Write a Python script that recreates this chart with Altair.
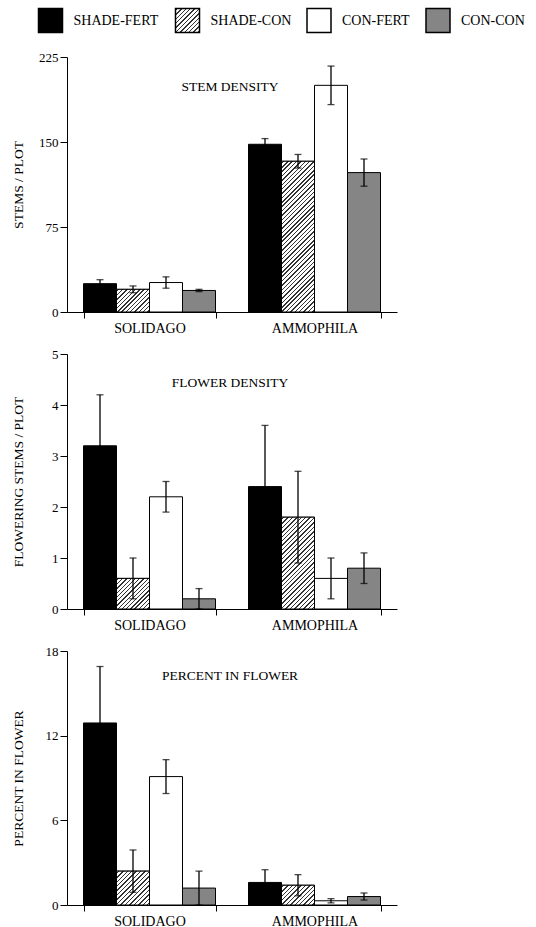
import altair as alt
import pandas as pd
import math

# ---------------- data ----------------
groups = ["SOLIDAGO", "AMMOPHILA"]
treatments = ["SHADE-FERT", "SHADE-CON", "CON-FERT", "CON-CON"]

stem_mean_solidago = [25, 20, 26, 19]
stem_se_solidago = [3.5, 3, 5, 1]
stem_mean_ammophila = [148, 133, 200, 123]
stem_se_ammophila = [5, 6, 17, 12]

flower_mean_solidago = [3.2, 0.6, 2.2, 0.2]
flower_se_solidago = [1.0, 0.4, 0.3, 0.2]
flower_mean_ammophila = [2.4, 1.8, 0.6, 0.8]
flower_se_ammophila = [1.2, 0.9, 0.4, 0.3]

pct_mean_solidago = [12.9, 2.4, 9.1, 1.2]
pct_se_solidago = [4.0, 1.5, 1.2, 1.2]
pct_mean_ammophila = [1.6, 1.4, 0.3, 0.6]
pct_se_ammophila = [0.9, 0.75, 0.15, 0.25]

stem_ticks = [0, 75, 150, 225]
flower_ticks = [0, 1, 2, 3, 4, 5]
pct_ticks = [0, 6, 12, 18]

# ---------------- style ----------------
FONT = "Liberation Serif"
FS = 13
XFS = 14
TFS = 13.5
PW = 330
fill_range = ["#000000", "#ffffff", "#ffffff", "#858585"]


def hatch(W, H, period=3.1, line=1.0):
    W = max(W, 1.0)
    H = max(H, 1.0)
    k = (W + H) / (W * W + H * H)
    a, b = W * k, H * k
    n = max(1, int(round((W + H) / (math.sqrt(2) * period))))
    f = line / period
    stops = [alt.GradientStop(color="#ffffff", offset=0)]
    for i in range(n):
        s = (i + 0.5 - f / 2) / n
        e = (i + 0.5 + f / 2) / n
        stops += [
            alt.GradientStop(color="#ffffff", offset=s),
            alt.GradientStop(color="#333333", offset=s),
            alt.GradientStop(color="#333333", offset=e),
            alt.GradientStop(color="#ffffff", offset=e),
        ]
    stops.append(alt.GradientStop(color="#ffffff", offset=1))
    return alt.LinearGradient(gradient="linear", stops=stops, x1=0, y1=0, x2=a, y2=b)


def panel(ms, ss, ma, sa, ticks, ytitle, label, height, title_y):
    rows = []
    for g, means, ses in [("SOLIDAGO", ms, ss), ("AMMOPHILA", ma, sa)]:
        for t, m, s in zip(treatments, means, ses):
            rows.append({"group": g, "treatment": t, "mean": m,
                         "lo": max(m - s, 0), "hi": m + s})
    df = pd.DataFrame(rows)
    ymax = ticks[-1]
    yscale = alt.Scale(domain=[0, ymax], nice=False, zero=True)
    yaxis = alt.Axis(values=ticks, title=ytitle, grid=False, tickSize=7,
                     labelPadding=2, minExtent=32, maxExtent=32, titlePadding=10,
                     domainColor="black", tickColor="black", labelColor="black",
                     titleColor="black", labelFont=FONT, titleFont=FONT,
                     labelFontSize=FS, titleFontSize=TFS, titleFontWeight="normal")
    base = alt.Chart(df).encode(
        x=alt.X("group:N", sort=groups, title=None,
                scale=alt.Scale(domain=groups, paddingInner=0.2, paddingOuter=0.1),
                axis=alt.Axis(labelAngle=0, tickBand="extent", tickSize=6, labelPadding=3,
                              domainColor="black", tickColor="black", labelColor="black",
                              labelFont=FONT, labelFontSize=XFS, grid=False)),
        xOffset=alt.XOffset("treatment:N", sort=treatments,
                            scale=alt.Scale(domain=treatments, paddingInner=0, paddingOuter=0)),
    )
    bars = base.mark_bar(stroke="black", strokeWidth=1).encode(
        y=alt.Y("mean:Q", scale=yscale, axis=yaxis),
        fill=alt.Fill("treatment:N", scale=alt.Scale(domain=treatments, range=fill_range),
                      legend=None),
    )
    layers = [bars]
    bw = PW / 2 * 0.8 / 4
    for g, means in [("SOLIDAGO", ms), ("AMMOPHILA", ma)]:
        h = means[1] / ymax * height
        layers.append(
            base.transform_filter(
                (alt.datum.group == g) & (alt.datum.treatment == "SHADE-CON")
            ).mark_bar(fill=hatch(bw, h), stroke="black", strokeWidth=1).encode(
                y=alt.Y("mean:Q", scale=yscale, axis=yaxis))
        )
    layers.append(base.mark_rule(color="black", strokeWidth=1.3).encode(
        y=alt.Y("lo:Q", scale=yscale, axis=yaxis), y2="hi:Q"))
    layers.append(base.mark_tick(color="black", thickness=1.3, size=7).encode(
        y=alt.Y("lo:Q", scale=yscale, axis=yaxis)))
    layers.append(base.mark_tick(color="black", thickness=1.3, size=7).encode(
        y=alt.Y("hi:Q", scale=yscale, axis=yaxis)))
    ttl = alt.Chart(pd.DataFrame({"t": [label]})).mark_text(
        font=FONT, fontSize=TFS, color="black", baseline="middle", align="center"
    ).encode(text="t:N", x=alt.value(163), y=alt.value(title_y))
    layers.append(ttl)
    return alt.layer(*layers).properties(width=PW, height=height)


p1 = panel(stem_mean_solidago, stem_se_solidago, stem_mean_ammophila, stem_se_ammophila,
           stem_ticks, "STEMS / PLOT", "STEM DENSITY", 255, 30)
p2 = panel(flower_mean_solidago, flower_se_solidago, flower_mean_ammophila, flower_se_ammophila,
           flower_ticks, "FLOWERING STEMS / PLOT", "FLOWER DENSITY", 255, 29)
p3 = panel(pct_mean_solidago, pct_se_solidago, pct_mean_ammophila, pct_se_ammophila,
           pct_ticks, "PERCENT IN FLOWER", "PERCENT IN FLOWER", 254, 25)

# ---------------- legend ----------------
# swatch centres, relative to the plot-area left edge
leg_pos = [-16.5, 120.5, 252, 371]
one = pd.DataFrame({"k": [0]})
leg_layers = []
for t, c, xp in zip(treatments, fill_range, leg_pos):
    fill = hatch(24, 24) if t == "SHADE-CON" else c
    leg_layers.append(
        alt.Chart(one).mark_square(size=576, stroke="black", strokeWidth=1.5, opacity=1,
                                   fill=fill)
        .encode(x=alt.value(xp), y=alt.value(14.5))
    )
    leg_layers.append(
        alt.Chart(one).mark_text(font=FONT, fontSize=14, color="black", align="left",
                                 baseline="middle", dx=23)
        .encode(x=alt.value(xp), y=alt.value(14.5), text=alt.value(t))
    )
legend = alt.layer(*leg_layers).properties(width=330, height=32)

chart = alt.vconcat(legend, p1, p2, p3, spacing=13).properties(
    padding={"left": 11, "top": 5, "right": 5, "bottom": 0},
    background="white",
).configure_view(stroke=None)

chart.save("out.html", embed_options={"renderer": "svg", "actions": False})
